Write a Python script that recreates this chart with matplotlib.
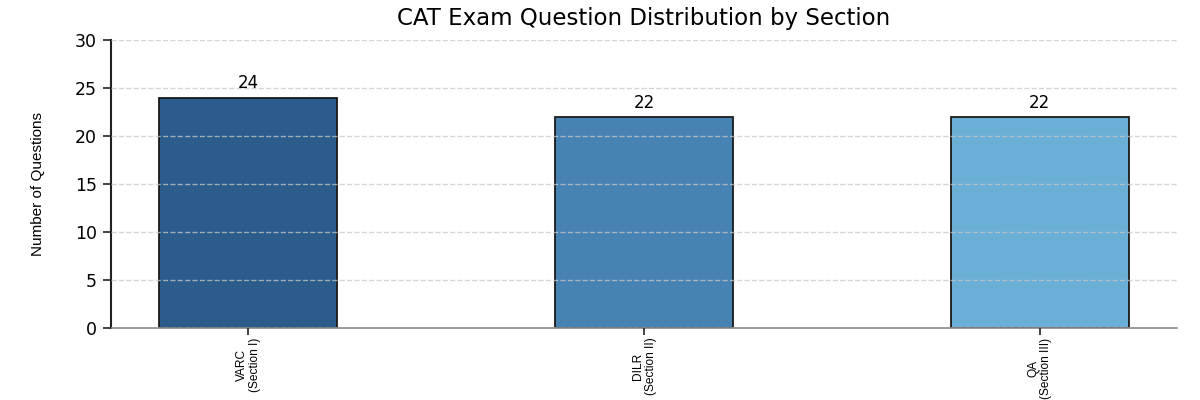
import matplotlib
matplotlib.use("Agg")
import matplotlib.pyplot as plt

categories = ["VARC\n(Section I)", "DILR\n(Section II)", "QA\n(Section III)"]
questions = [24, 22, 22]
colors = ["#2c5c8c", "#4682b4", "#6baed6"]
yticks = [0, 5, 10, 15, 20, 25, 30]

fig = plt.figure(figsize=(12, 4), dpi=100)
ax = fig.add_axes([0.0925, 0.18, 0.8885, 0.72])

x = list(range(len(categories)))
bars = ax.bar(x, questions, width=0.45, color=colors, edgecolor="#1a1a1a", linewidth=1.3, zorder=2)
for xi, v in zip(x, questions):
    ax.text(xi, v + 0.55, str(v), ha="center", va="bottom", fontsize=12, family="DejaVu Sans")

ax.set_ylim(0, 30)
ax.set_yticks(yticks)
ax.set_xticks(x)
ax.set_xticklabels(categories, rotation=90, fontsize=8.6, family="Liberation Sans",
                   multialignment="center", linespacing=1.1)
for lbl in ax.get_yticklabels():
    lbl.set_fontsize(12.5)
    lbl.set_family("DejaVu Sans")
ax.set_ylabel("Number of Questions", fontsize=11, family="Liberation Sans", labelpad=22)
ax.set_title("CAT Exam Question Distribution by Section", fontsize=16.5, family="DejaVu Sans", pad=11)

ax.grid(axis="y", linestyle="--", color="#c8c8c8", alpha=0.75, linewidth=1, zorder=3)
ax.set_axisbelow(False)
ax.spines["top"].set_visible(False)
ax.spines["right"].set_visible(False)
ax.spines["left"].set_color("#222222")
ax.spines["left"].set_linewidth(1.5)
ax.spines["bottom"].set_color("#888888")
ax.spines["bottom"].set_linewidth(1.2)
ax.tick_params(axis="y", length=6, width=1.2, color="#222222", pad=4)
ax.tick_params(axis="x", length=5, width=1.2, color="#222222", pad=2)

fig.savefig("out.png", dpi=100)
